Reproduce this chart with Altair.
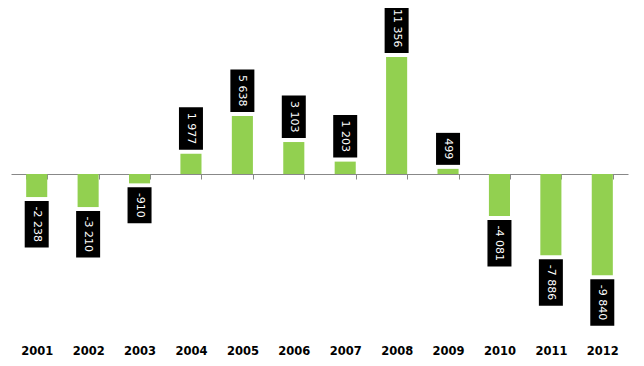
import altair as alt
import pandas as pd

years = ["2001", "2002", "2003", "2004", "2005", "2006",
         "2007", "2008", "2009", "2010", "2011", "2012"]
values = [-2238, -3210, -910, 1977, 5638, 3103,
          1203, 11356, 499, -4081, -7886, -9840]
labels = [f"{v:,}".replace(",", " ") for v in values]

df = pd.DataFrame({"year": years, "value": values, "label": labels})

H = 330
W = 617
K = 0.0103           # px per data unit
zero_px = 164.0      # zero line distance from plot top
DMAX = zero_px / K
DMIN = -(H - zero_px) / K

axis_offset = -(H - zero_px)

x_enc = alt.X(
    "year:N",
    sort=years,
    title=None,
    scale=alt.Scale(paddingInner=0.59, paddingOuter=0.295),
    axis=alt.Axis(
        orient="bottom",
        offset=axis_offset,
        domainColor="#888888",
        tickColor="#888888",
        tickSize=5,
        tickBand="extent",
        labelAngle=0,
        labelPadding=H - zero_px,
        labelFont="DejaVu Sans",
        labelFontWeight="bold",
        labelFontSize=11.5,
        labelColor="#000000",
        grid=False,
    ),
)

y_scale = alt.Scale(domain=[DMIN, DMAX], nice=False, zero=False)

base = alt.Chart(df).transform_calculate(
    sgn="datum.value < 0 ? -1 : 1",
    boxpx="11 + 7*length(datum.label) - (indexof(datum.label, ' ') >= 0 ? 3.5 : 0) - (datum.value < 0 ? 3 : 0)",
).transform_calculate(
    b0=f"datum.value + datum.sgn * 4 / {K}",
    b1=f"datum.value + datum.sgn * (4 + datum.boxpx) / {K}",
).transform_calculate(
    bmid="(datum.b0 + datum.b1) / 2",
)

bars = base.mark_bar(color="#92D050").encode(
    x=x_enc,
    y=alt.Y("value:Q", scale=y_scale, axis=None),
    y2=alt.datum(0),
)

boxes = base.mark_bar(color="#000000", size=24).encode(
    x=alt.X("year:N", sort=years),
    y=alt.Y("b0:Q", scale=y_scale, axis=None),
    y2="b1:Q",
)

texts = base.mark_text(
    angle=90, color="#ffffff", font="DejaVu Sans", fontSize=11,
    align="center", baseline="middle",
).encode(
    x=alt.X("year:N", sort=years),
    y=alt.Y("bmid:Q", scale=y_scale, axis=None),
    text="label:N",
)

chart = alt.layer(bars, boxes, texts).properties(
    width=W, height=H,
    background="#ffffff",
    autosize=alt.AutoSizeParams(type="none"),
    padding={"left": 3, "top": 2, "right": 8, "bottom": 24},
).configure_view(strokeWidth=0, stroke="transparent")

chart.save("out.html", embed_options={"renderer": "svg", "actions": False})
